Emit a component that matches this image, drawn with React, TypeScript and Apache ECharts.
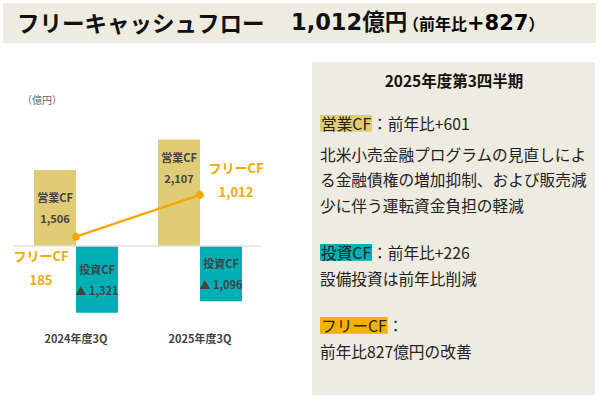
import React, { useEffect, useRef } from "react";
import * as echarts from "echarts";

const categories = ["2024年度3Q", "2025年度3Q"];
const operatingCF = [1506, 2107];
const investingCF = [-1321, -1096];
const freeCF = [185, 1012];
const operatingText = ["1,506", "2,107"];
const investingText = ["▲ 1,321", "▲ 1,096"];
const freeText = ["185", "1,012"];

const FONT = "'Noto Sans CJK JP', 'Noto Sans', sans-serif";
const TITLE_FONT = "'DejaVu Sans', 'Noto Sans CJK JP', sans-serif";
const BEIGE = "#EEEBE1";
const C_OP = "#E0CC74";
const C_INV = "#00AEB5";
const C_FREE = "#F5A800";

export default function App() {
  const ref = useRef<HTMLDivElement>(null);
  useEffect(() => {
    if (!ref.current) return;
    const chart = echarts.init(ref.current, null, { renderer: "svg" });
    const barLabelBase = {
      show: true,
      fontSize: 11,
      fontWeight: "bold" as const,
      color: "#444",
      lineHeight: 21,
      fontFamily: FONT,
    };
    const opOffsets = [
      { position: "inside", distance: 0 },
      { position: "insideTop", distance: 6.5 },
    ];
    const freeOffsets = [
      [-35, 31],
      [36, -15],
    ];
    const panelText = (y: number, text: string, rich?: any) => ({
      type: "text",
      left: 320,
      top: y,
      style: {
        text,
        fontSize: 15.7,
        fontFamily: FONT,
        fill: "#222",
        rich,
      },
    });
    const hl = (bg: string) => ({
      backgroundColor: bg,
      fontSize: 15.7,
      fontFamily: FONT,
      color: "#222",
      lineHeight: 16,
      padding: [1, 1, 0, 1],
    });
    chart.setOption({
      animation: false,
      grid: { left: 14, width: 248, top: 94.5, height: 232.3 },
      xAxis: {
        type: "category",
        data: categories,
        axisLine: { show: false },
        axisTick: { show: false },
        axisLabel: {
          margin: 6,
          fontSize: 11,
          fontWeight: "bold",
          color: "#444",
          fontFamily: FONT,
        },
      },
      yAxis: {
        type: "value",
        min: -1600,
        max: 3000,
        show: false,
        splitLine: { show: false },
      },
      series: [
        {
          type: "bar",
          name: "営業CF",
          barWidth: 42,
          barGap: "0%",
          itemStyle: { color: C_OP },
          data: operatingCF.map((v, i) => ({
            value: v,
            label: {
              ...barLabelBase,
              position: opOffsets[i].position,
              distance: opOffsets[i].distance,
              formatter: "営業CF\n" + operatingText[i],
            },
          })),
          markLine: {
            silent: true,
            symbol: ["none", "none"],
            label: { show: false },
            lineStyle: { color: "#E2E2E2", width: 1.5, type: "solid" },
            data: [{ yAxis: 0 }],
          },
        },
        {
          type: "bar",
          name: "投資CF",
          barWidth: 42,
          barGap: "0%",
          itemStyle: { color: C_INV },
          data: investingCF.map((v, i) => ({
            value: v,
            label: {
              ...barLabelBase,
              position: "inside",
              formatter: "投資CF\n" + investingText[i],
            },
          })),
        },
        {
          type: "line",
          name: "フリーCF",
          z: 5,
          symbol: "circle",
          symbolSize: 8,
          lineStyle: { color: C_FREE, width: 2.5 },
          itemStyle: { color: C_FREE },
          data: freeCF.map((v, i) => ({
            value: v,
            label: {
              show: true,
              position: "inside",
              offset: freeOffsets[i],
              formatter: "フリーCF\n" + freeText[i],
              fontSize: 13,
              fontWeight: "bold",
              color: C_FREE,
              lineHeight: 24,
              fontFamily: FONT,
            },
          })),
        },
      ],
      graphic: [
        {
          type: "rect",
          shape: { x: 3, y: 3, width: 593, height: 40 },
          style: { fill: BEIGE },
          z: -10,
        },
        {
          type: "text",
          x: 17,
          y: 22,
          style: {
            text: "フリーキャッシュフロー",
            fontSize: 22.5,
            fontWeight: "bold",
            fontFamily: FONT,
            fill: "#111",
            textVerticalAlign: "middle",
          },
        },
        {
          type: "text",
          x: 291,
          y: 22,
          style: {
            text: "1,012億円",
            fontSize: 22.5,
            fontWeight: "bold",
            fontFamily: TITLE_FONT,
            fill: "#111",
            textVerticalAlign: "middle",
          },
        },
        {
          type: "text",
          x: 403,
          y: 23,
          style: {
            text: "{c|（前年比}{d|+827}{c|）}",
            textVerticalAlign: "middle",
            rich: {
              c: {
                fontSize: 16,
                fontWeight: "bold",
                fontFamily: FONT,
                color: "#111",
              },
              d: {
                fontSize: 21,
                fontWeight: "bold",
                fontFamily: TITLE_FONT,
                color: "#111",
              },
            },
          },
        },
        {
          type: "text",
          x: 22,
          y: 99,
          style: {
            text: "（億円）",
            fontSize: 10,
            fontFamily: FONT,
            fill: "#666",
            textVerticalAlign: "middle",
          },
        },
        {
          type: "rect",
          shape: { x: 312, y: 62, width: 283, height: 333 },
          style: { fill: BEIGE },
          z: -10,
        },
        {
          type: "text",
          x: 454,
          y: 80,
          style: {
            text: "2025年度第3四半期",
            fontSize: 15.5,
            fontWeight: "bold",
            fontFamily: FONT,
            fill: "#111",
            textAlign: "center",
            textVerticalAlign: "middle",
          },
        },
        panelText(115, "{a|営業CF}：前年比+601", { a: hl(C_OP) }),
        panelText(147, "北米小売金融プログラムの見直しによ"),
        panelText(172, "る金融債権の増加抑制、および販売減"),
        panelText(198, "少に伴う運転資金負担の軽減"),
        panelText(244, "{a|投資CF}：前年比+226", { a: hl(C_INV) }),
        panelText(271, "設備投資は前年比削減"),
        panelText(317, "{a|フリーCF}：", { a: hl("#F6B000") }),
        panelText(344, "前年比827億円の改善"),
      ],
    });
    return () => chart.dispose();
  }, []);
  return <div ref={ref} style={{ width: 600, height: 399, position: "absolute", left: 0, top: 0 }} />;
}
